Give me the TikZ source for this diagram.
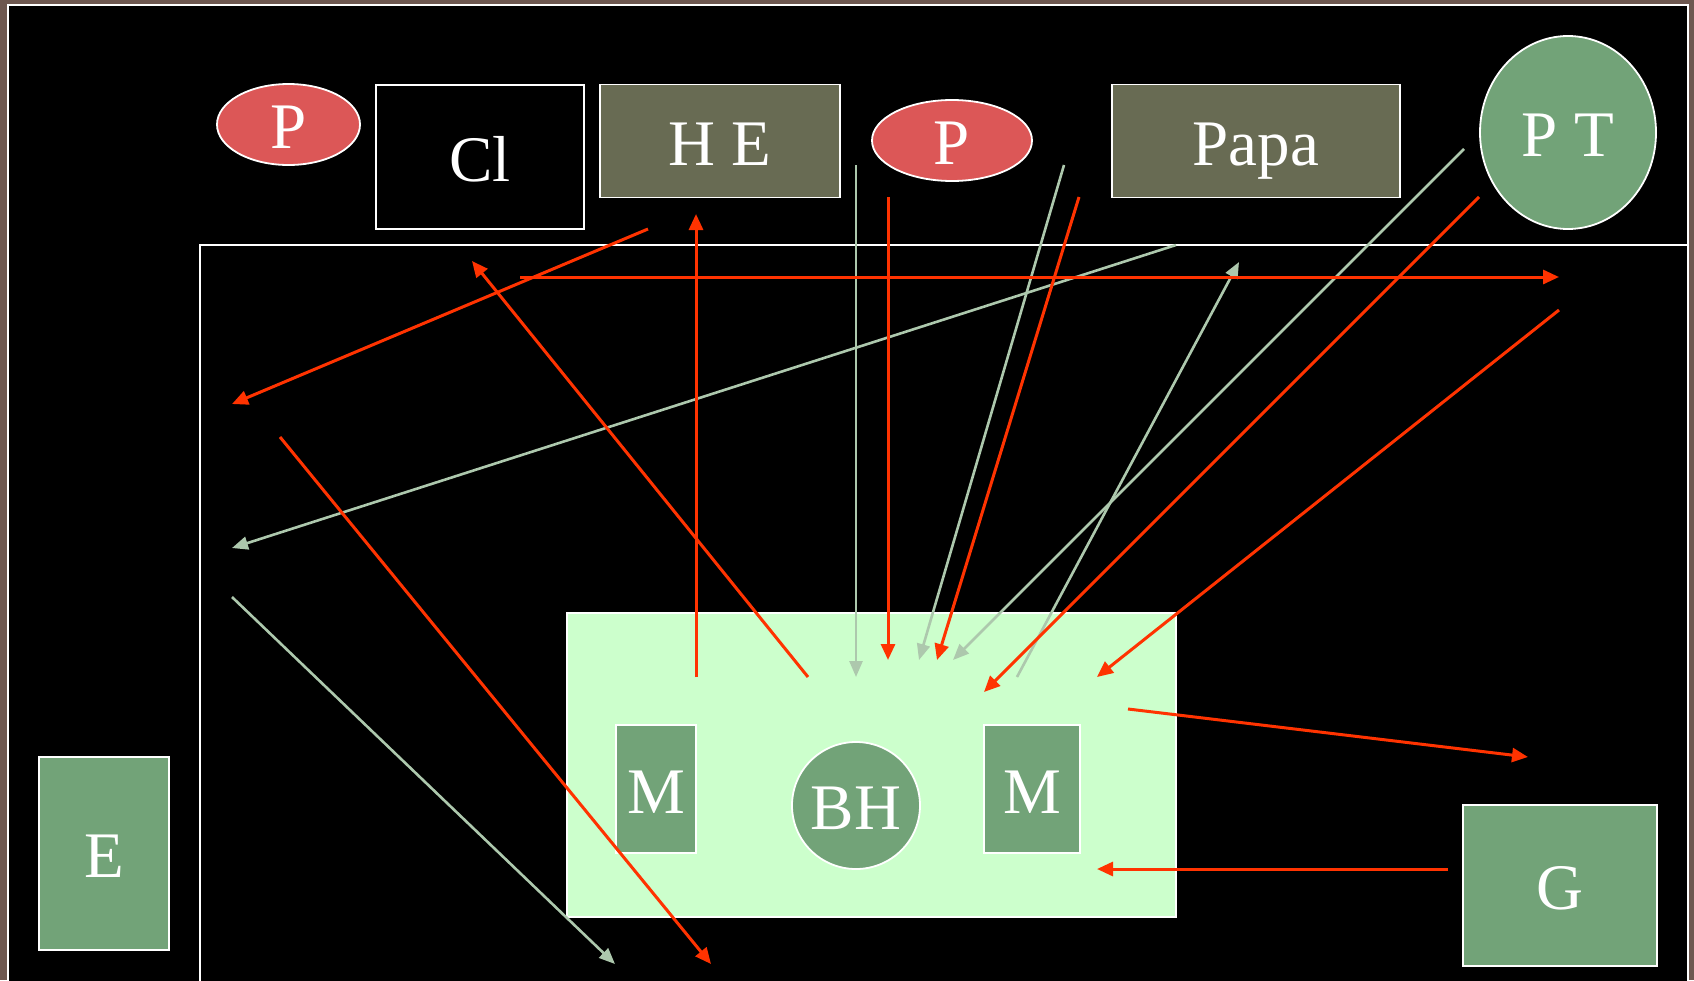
\documentclass[tikz,border=0pt]{standalone}
\usepackage{fontspec}
\setmainfont{Liberation Serif}
\usetikzlibrary{shapes.geometric,arrows.meta}
\definecolor{brownb}{RGB}{110,88,80}
\definecolor{redfill}{RGB}{220,87,87}
\definecolor{olivefill}{RGB}{104,107,83}
\definecolor{greenfill}{RGB}{114,163,120}
\definecolor{lightgreen}{RGB}{204,255,204}
\definecolor{linered}{RGB}{255,51,0}
\definecolor{linegrey}{RGB}{173,200,173}
\tikzset{
  lbl/.style={text=white, font=\fontsize{65}{70}\selectfont, text height=48pt, text depth=0pt, inner sep=0pt, draw=white, line width=1.8pt},
  redellipse/.style={lbl, shape=ellipse, fill=redfill},
  olivebox/.style={lbl, shape=rectangle, fill=olivefill},
  blackbox/.style={lbl, shape=rectangle, fill=black},
  greenbox/.style={lbl, shape=rectangle, fill=greenfill},
  greenround/.style={lbl, shape=ellipse, fill=greenfill},
  zonebox/.style={shape=rectangle, fill=lightgreen, draw=white, line width=1.8pt, inner sep=0pt},
  redarrow/.style={draw=linered, line width=3pt, -{Triangle[length=16pt,width=14pt]}},
  greyarrow/.style={draw=linegrey, line width=2.6pt, -{Triangle[length=16pt,width=13pt]}},
}
\begin{document}
\begin{tikzpicture}[x=1pt,y=-1pt]
\useasboundingbox (0,0) rectangle (1694,980);
\fill[brownb] (0,0) rectangle (1694,980);
\draw[white, line width=1.8pt, fill=black] (8,5) rectangle (1688,990);
\draw[white, line width=2pt] (200,990) -- (200,245) -- (1688,245);

% nodes
\node[redellipse, minimum width=143pt, minimum height=81pt] (p1) at (288.5,124.5) {P};
\node[blackbox, minimum width=208pt, minimum height=144pt] (cl) at (480,157) {Cl};
\node[olivebox, minimum width=240pt, minimum height=113pt] (he) at (720,141) {H E};
\node[redellipse, minimum width=160pt, minimum height=81pt] (p2) at (952,140.5) {P};
\node[olivebox, minimum width=288pt, minimum height=113pt] (papa) at (1256,141) {Papa};
\node[greenround, minimum width=176pt, minimum height=193pt] (pt) at (1568,132.5) {P T};
\node[greenbox, minimum width=130pt, minimum height=193pt] (e) at (104,853.5) {E};
\node[greenbox, minimum width=194pt, minimum height=161pt] (g) at (1560,885.5) {G};
\node[zonebox, minimum width=609pt, minimum height=304pt] (zone) at (871.5,765) {};
\node[greenbox, minimum width=80pt, minimum height=128pt] (m1) at (656,789) {M};
\node[greenround, minimum width=128pt, minimum height=127pt] (bh) at (856,805.5) {BH};
\node[greenbox, minimum width=96pt, minimum height=128pt] (m2) at (1032,789) {M};

% red connector end points
\coordinate (r1a) at (648,229);  \coordinate (r1b) at (232,404);
\coordinate (r2a) at (520,277);  \coordinate (r2b) at (1559,277);
\coordinate (r3a) at (808,677);  \coordinate (r3b) at (472,261);
\coordinate (r4a) at (696,677);  \coordinate (r4b) at (696,214);
\coordinate (r5a) at (888,197);  \coordinate (r5b) at (888,660);
\coordinate (r6a) at (1079,197); \coordinate (r6b) at (937,660);
\coordinate (r7a) at (1479,197); \coordinate (r7b) at (984,692);
\coordinate (r8a) at (1559,310); \coordinate (r8b) at (1097,677);
\coordinate (r9a) at (1128,709); \coordinate (r9b) at (1528,757);
\coordinate (r10a) at (1448,869); \coordinate (r10b) at (1097,869);
\coordinate (r11a) at (280,437); \coordinate (r11b) at (711,964);
% grey connector end points
\coordinate (g1a) at (1176,245); \coordinate (g1b) at (232,548);
\coordinate (g2a) at (232,597);  \coordinate (g2b) at (615,964);
\coordinate (g3a) at (856,165);  \coordinate (g3b) at (856,677);
\coordinate (g4a) at (1064,165); \coordinate (g4b) at (919,660);
\coordinate (g5a) at (1464,149); \coordinate (g5b) at (953,660);
\coordinate (g6a) at (1017,677); \coordinate (g6b) at (1239,262);

\foreach \n in {1,...,6} {\draw[greyarrow] (g\n a) -- (g\n b);}
\foreach \n in {1,...,11} {\draw[redarrow] (r\n a) -- (r\n b);}
\end{tikzpicture}
\end{document}
